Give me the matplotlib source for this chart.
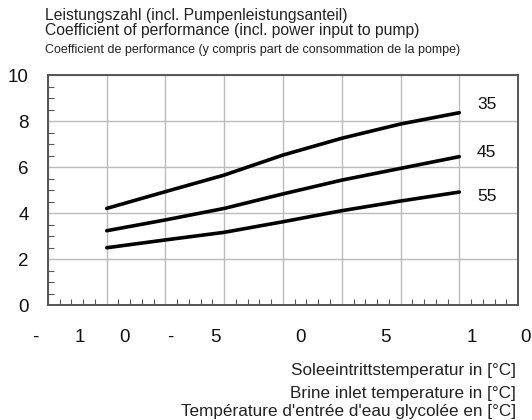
import matplotlib
matplotlib.use("Agg")
import matplotlib.pyplot as plt
from matplotlib.ticker import MultipleLocator

plt.rcParams["font.family"] = ["Liberation Sans", "DejaVu Sans"]

# Brine inlet temperature (°C) and COP per flow temperature
brine_temp = [-5, 0, 5, 10, 15, 20, 25]
cop_35 = [4.20, 4.93, 5.65, 6.52, 7.25, 7.87, 8.36]
cop_45 = [3.23, 3.70, 4.20, 4.83, 5.43, 5.94, 6.45]
cop_55 = [2.49, 2.83, 3.16, 3.62, 4.10, 4.52, 4.91]
series_labels = ["35", "45", "55"]
label_y = [8.7, 6.62, 4.71]

# the x tick labels in the source are split into single characters
xtick_chars = ["-", "1", "0", "-", "5", "0", "5", "1", "0"]
xtick_pos = [-11.1, -7.28, -3.45, 0.38, 4.21, 11.45, 18.68, 26.09, 30.6]
yticks = [0, 2, 4, 6, 8, 10]

title_lines = [
    "Leistungszahl (incl. Pumpenleistungsanteil)",
    "Coefficient of performance (incl. power input to pump)",
    "Coefficient de performance (y compris part de consommation de la pompe)",
]
xlabel_lines = [
    "Soleeintrittstemperatur in [°C]",
    "Brine inlet temperature in [°C]",
    "Température d'entrée d'eau glycolée en [°C]",
]

fig = plt.figure(figsize=(5.32, 4.2), dpi=100)
ax = fig.add_axes([0.0902, 0.2738, 0.8835, 0.5476])

for ys in (cop_35, cop_45, cop_55):
    ax.plot(brine_temp, ys, color="black", lw=2.6, solid_capstyle="round",
            solid_joinstyle="round", zorder=3)

for lab, y in zip(series_labels, label_y):
    ax.text(26.5, y, lab, fontsize=12.5, ha="left", va="center", color="#111111")

ax.set_xlim(-10, 30)
ax.set_ylim(0, 10)
ax.xaxis.set_major_locator(MultipleLocator(5))
ax.xaxis.set_minor_locator(MultipleLocator(1))
ax.yaxis.set_minor_locator(MultipleLocator(0.5))
ax.set_yticks(yticks)
ax.set_yticklabels([str(v) for v in yticks], fontsize=13.5, color="#111111")
ax.set_xticklabels([])
ax.tick_params(axis="both", which="major", length=0, pad=14)
ax.tick_params(axis="both", which="minor", direction="in", length=4,
               width=0.8, color="#555555")
ax.grid(True, which="major", color="#bbbbbb", lw=1.0)
for s in ax.spines.values():
    s.set_color("#555555")
    s.set_linewidth(1.4)

for ch, x in zip(xtick_chars, xtick_pos):
    ax.text(x, -1.4, ch, fontsize=13.5, ha="center", va="center",
            color="#111111", clip_on=False)

# three-language titles above the plot
fig.text(0.0846, 0.9524, title_lines[0], fontsize=11.3, ha="left", va="baseline", color="#222222")
fig.text(0.0846, 0.9167, title_lines[1], fontsize=11.3, ha="left", va="baseline", color="#222222")
fig.text(0.0846, 0.8738, title_lines[2], fontsize=9.0, ha="left", va="baseline", color="#222222")

for y, line in zip([0.1071, 0.0524, 0.0095], xlabel_lines):
    fig.text(0.970, y, line, fontsize=12.3, ha="right", va="baseline", color="#222222")

fig.savefig("out.png", dpi=100)
